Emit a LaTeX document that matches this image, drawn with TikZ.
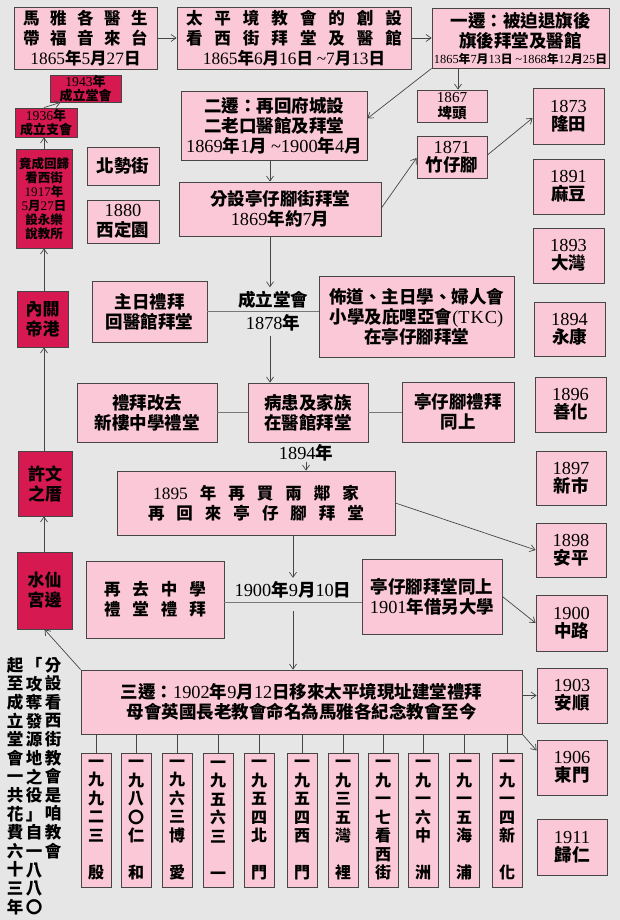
\documentclass[tikz,border=0pt]{standalone}
\usepackage{fontspec}
\setmainfont{Noto Sans CJK TC}
\newfontfamily\lat[Scale=1.05]{Liberation Serif}
\usetikzlibrary{arrows.meta,calc}
\newcommand\nm[1]{{\lat\mdseries #1}}
\newcommand\gA{\hspace{10.5pt}}
\newcommand\gB{\hspace{12pt}}
\newcommand\Bx[7][bx]{\node[#1,minimum width={#5-#3},minimum height={#6-#4}] (#2) at ({(#3+#5)/2},{(#4+#6)/2}) {#7};}
\definecolor{bgc}{RGB}{230,230,230}
\definecolor{pk}{RGB}{250,200,214}
\definecolor{cr}{RGB}{214,25,80}
\definecolor{lnc}{RGB}{70,70,70}
\definecolor{lgc}{RGB}{120,120,120}
\tikzset{
  bx/.style={draw=lnc,line width=0.8pt,fill=pk,inner sep=0pt,align=center,text=black},
  rb/.style={bx,fill=cr},
  lab/.style={inner sep=0pt,align=center},
  fA/.style={font=\fontsize{16.5}{20}\selectfont\bfseries},
  fC/.style={font=\fontsize{17.5}{20}\selectfont\bfseries},
  fP/.style={font=\fontsize{14.5}{15.5}\selectfont\bfseries},
  fS/.style={font=\fontsize{13}{14}\selectfont\bfseries},
  fT/.style={font=\fontsize{12.5}{14}\selectfont\bfseries},
  fR/.style={font=\fontsize{17}{20}\selectfont\bfseries},
  fV/.style={font=\fontsize{16.5}{18.6}\selectfont\bfseries},
  fW/.style={font=\fontsize{16}{18.5}\selectfont\bfseries},
  arr/.style={draw=lnc,line width=0.7pt,-{Straight Barb[length=5pt,width=7pt]}},
  cl/.style={draw=lgc,line width=1pt},
}
\begin{document}
\begin{tikzpicture}[x=1pt,y=-1pt]
\fill[bgc] (0,0) rectangle (620,920);
\useasboundingbox (0,0) rectangle (620,920);
% top row
\Bx[bx,fA]{A}{14}{7}{157}{69}{馬\gA{}雅\gA{}各\gA{}醫\gA{}生\\帶\gA{}福\gA{}音\gA{}來\gA{}台\\\nm{1865}年\nm{5}月\nm{27}日}
\Bx[bx,fA]{B}{177}{7}{411}{69}{太\gB{}平\gB{}境\gB{}教\gB{}會\gB{}的\gB{}創\gB{}設\\看\gB{}西\gB{}街\gB{}拜\gB{}堂\gB{}及\gB{}醫\gB{}館\\\nm{1865}年\nm{6}月\nm{16}日 \nm{\textasciitilde7}月\nm{13}日}
\Bx[bx,fC]{C}{432}{8}{609}{68}{一遷：被迫退旗後\\旗後拜堂及醫館\\[-4pt]{\fontsize{11.8}{12}\selectfont\nm{1865}年\nm{7}月\nm{13}日 \nm{\textasciitilde1868}年\nm{12}月\nm{25}日}}
\Bx[bx,fP]{tou}{417}{90}{487}{122}{\nm{1867}\\埤頭}
\Bx[bx,fC]{er}{181}{91}{367}{160}{二遷：再回府城設\\二老口醫館及拜堂\\\nm{1869}年\nm{1}月 \nm{\textasciitilde1900}年\nm{4}月}
\Bx[bx,fC]{fen}{179}{182}{381}{236}{分設亭仔腳街拜堂\\\nm{1869}年約\nm{7}月}
\Bx[bx,fC]{zhu}{417}{136}{487}{178}{\nm{1871}\\[-2pt]竹仔腳}
\Bx[bx,fC]{bsj}{87}{147}{159}{185}{北勢街}
\Bx[bx,fC]{xdy}{87}{200}{159}{243}{\nm{1880}\\西定園}
% year boxes
\Bx[bx,fC]{y1873}{533}{88}{604}{144}{\nm{1873}\\[-2pt]隆田}
\Bx[bx,fC]{y1891}{533}{159}{604}{214}{\nm{1891}\\[-2pt]麻豆}
\Bx[bx,fC]{y1893}{533}{228}{604}{283}{\nm{1893}\\[-2pt]大灣}
\Bx[bx,fC]{y1894}{534}{302}{605}{356}{\nm{1894}\\[-2pt]永康}
\Bx[bx,fC]{y1896}{535}{377}{606}{432}{\nm{1896}\\[-2pt]善化}
\Bx[bx,fC]{y1897}{536}{451}{606}{505}{\nm{1897}\\[-2pt]新市}
\Bx[bx,fC]{y1898}{536}{523}{606}{577}{\nm{1898}\\[-2pt]安平}
\Bx[bx,fC]{y1900}{536}{595}{607}{651}{\nm{1900}\\[-2pt]中路}
\Bx[bx,fC]{y1903}{537}{668}{607}{723}{\nm{1903}\\[-2pt]安順}
\Bx[bx,fC]{y1906}{537}{740}{607}{795}{\nm{1906}\\[-2pt]東門}
\Bx[bx,fC]{y1911}{537}{819}{607}{875}{\nm{1911}\\[-2pt]歸仁}
% left red column
\Bx[rb,fS]{r1943}{50}{75}{121}{102}{\nm{1943}年\\成立堂會}
\Bx[rb,fS]{r1936}{15}{108}{77}{137}{\nm{1936}年\\成立支會}
\Bx[rb,fT]{rjc}{16}{149}{72}{248}{竟成回歸\\看西街\\\nm{1917}年\\\nm{5}月\nm{27}日\\設永樂\\說教所}
\Bx[rb,fR]{ngd}{17}{291}{68}{347}{內關\\帝港}
\Bx[rb,fR]{xwz}{18}{451}{72}{516}{許文\\之厝}
\Bx[rb,fR]{sxg}{17}{552}{72}{629}{水仙\\宮邊}
% middle
\Bx[bx,fC]{zr}{92}{281}{207}{342}{主日禮拜\\回醫館拜堂}
\Bx[bx,fC]{bd}{319}{276}{514}{357}{佈道、主日學、婦人會\\小學及庇哩亞會\nm{(T\kern1pt K\kern1pt C)}\\在亭仔腳拜堂}
\Bx[bx,fC]{lb}{77}{383}{217}{442}{禮拜改去\\新樓中學禮堂}
\Bx[bx,fC]{bh}{248}{383}{368}{442}{病患及家族\\在醫館拜堂}
\Bx[bx,fC]{tz}{402}{382}{514}{442}{亭仔腳禮拜\\同上}
\Bx[bx,fA]{m95}{117}{471}{395}{535}{\nm{1895}\gB{}年\gB{}再\gB{}買\gB{}兩\gB{}鄰\gB{}家\\再\gB{}回\gB{}來\gB{}亭\gB{}仔\gB{}腳\gB{}拜\gB{}堂}
\Bx[bx,fA]{zq}{86}{561}{224}{638}{再\gB{}去\gB{}中\gB{}學\\禮\gB{}堂\gB{}禮\gB{}拜}
\Bx[bx,fC]{tz2}{362}{559}{502}{634}{亭仔腳拜堂同上\\\nm{1901}年借另大學}
\Bx[bx,fC]{san}{81}{670}{522}{734}{三遷：\nm{1902}年\nm{9}月\nm{12}日移來太平境現址建堂禮拜\\母會英國長老教會命名為馬雅各紀念教會至今}
% labels
\node[lab,fC,minimum height=48] (l1878) at (273,311.5) {成立堂會\\[3pt]\nm{1878}年};
\node[lab,fC] (l1894) at (306,453) {\nm{1894}年};
\node[lab,fC,minimum height=24] (l1900) at (293,590) {\nm{1900}年\nm{9}月\nm{10}日};
% left text columns
\node[lab,fV] (c1) at (15,786) {起\\至\\成\\立\\堂\\會\\一\\共\\花\\費\\六\\十\\三\\年};
\node[lab,fV] (c2) at (34,786) {「\\攻\\奪\\發\\源\\地\\之\\役\\」\\自\\一\\八\\八\\〇};
\node[lab,fV] (c3) at (53,758) {分\\設\\看\\西\\街\\教\\會\\是\\咱\\教\\會};
% bottom vertical boxes
\Bx[bx,fW]{v1}{81}{753}{111}{887}{一\\九\\九\\二\\三\\[18.5pt]殷}
\Bx[bx,fW]{v2}{121}{753}{151}{887}{一\\九\\八\\〇\\仁\\[18.5pt]和}
\Bx[bx,fW]{v3}{162}{753}{192}{887}{一\\九\\六\\三\\博\\[18.5pt]愛}
\Bx[bx,fW]{v4}{203}{753}{233}{887}{一\\九\\五\\六\\三\\[18.5pt]一}
\Bx[bx,fW]{v5}{244}{753}{274}{887}{一\\九\\五\\四\\北\\[18.5pt]門}
\Bx[bx,fW]{v6}{287}{753}{317}{887}{一\\九\\五\\四\\西\\[18.5pt]門}
\Bx[bx,fW]{v7}{328}{753}{358}{887}{一\\九\\三\\五\\灣\\[18.5pt]裡}
\Bx[bx,fW]{v8}{368}{753}{398}{887}{一\\九\\一\\七\\看\\西\\街}
\Bx[bx,fW]{v9}{408}{753}{438}{887}{一\\九\\一\\六\\中\\[18.5pt]洲}
\Bx[bx,fW]{v10}{449}{753}{479}{887}{一\\九\\一\\五\\海\\[18.5pt]浦}
\Bx[bx,fW]{v11}{492}{753}{522}{887}{一\\九\\一\\四\\新\\[18.5pt]化}
% helper coordinates
\coordinate (x458) at (458,0);
\coordinate (x270) at (270,0);
\coordinate (x293) at (293,0);
\coordinate (x44) at (44,0);
\coordinate (y602) at (0,602);
\coordinate (s1900) at ($(l1900.south)+(0,9)$);
% connectors
\draw[arr] (A.east) -- (B.west);
\draw[arr] (B.east) -- (C.west);
\draw[arr] (C.south -| x458) -- (tou.north -| x458);
\draw[arr] (C.south west) -- ([yshift=7pt]er.east);
\draw[arr] (er.south -| x270) -- (fen.north -| x270);
\draw[arr] ([yshift=1pt]fen.east) -- ([yshift=-1pt]zhu.west);
\draw[arr] ([yshift=2pt]zhu.east) -- ([yshift=-2pt]y1873.west);
\draw[arr] (fen.south -| x270) -- (l1878.north -| x270);
\draw[arr] (l1878.south -| x270) -- (bh.north -| x270);
\draw[cl] (zr.east) -- (zr.east -| bd.west);
\draw[cl] (lb.east) -- (bh.west);
\draw[cl] (bh.east) -- (bh.east -| tz.west);
\draw[arr] (l1894.south) -- (l1894.south |- m95.north);
\draw[arr] (m95.east) -- (y1898.west);
\draw[arr] (m95.south -| x293) -- (l1900.north -| x293);
\draw[cl] (zq.east |- y602) -- (tz2.west |- y602);
\draw[arr] (s1900 -| x293) -- (san.north -| x293);
\draw[arr] (tz2.east) -- (y1900.west);
\draw[arr] (y1903.west -| san.east) -- (y1903.west);
\draw[arr] (san.south east) -- ([yshift=17pt]y1906.west);
\draw[arr] (san.north west) -- (sxg.south);
\draw[arr] (sxg.north -| x44) -- (xwz.south -| x44);
\draw[arr] (xwz.north -| x44) -- (ngd.south -| x44);
\draw[arr] (ngd.north -| x44) -- (rjc.south -| x44);
\draw[arr] (rjc.north -| x44) -- (r1936.south -| x44);
\draw[arr] (r1936.north -| x44) -- ([xshift=-25pt]r1943.south);
\foreach \i in {1,...,11} \draw[lnc,line width=0.8pt] (v\i.north |- san.south) -- (v\i.north);
\end{tikzpicture}
\end{document}
